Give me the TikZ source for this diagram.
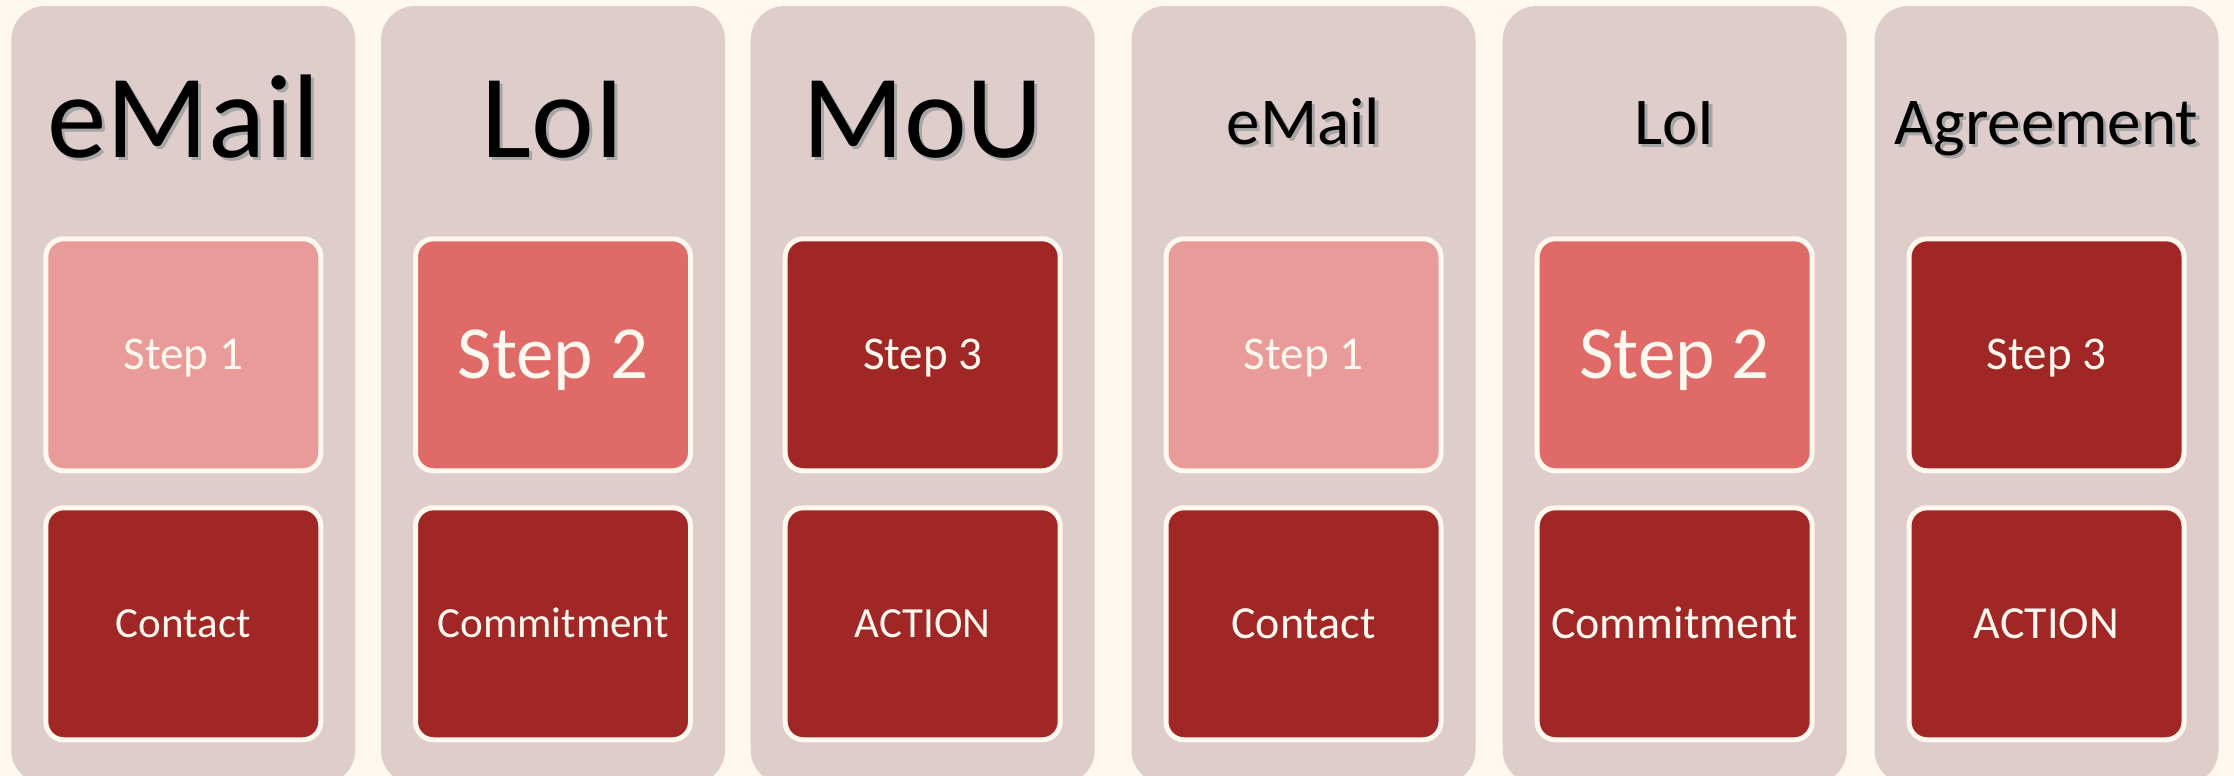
\documentclass[tikz,border=0pt]{standalone}
\usepackage{fontspec}
\setmainfont{Carlito}
\definecolor{bg}{HTML}{FEF8EF}
\definecolor{colfill}{HTML}{DFCDCB}
\definecolor{lightred}{HTML}{E99B9A}
\definecolor{midred}{HTML}{DF6A68}
\definecolor{darkred}{HTML}{A02725}
\definecolor{cream}{HTML}{FFF8EE}
\newcommand\shtext[1]{\makebox[0pt][l]{\raisebox{-1.6pt}{\hspace{1.6pt}\textcolor{black!35}{#1}}}#1}
\begin{document}
\begin{tikzpicture}[x=0.5pt,y=-0.5pt,
  column/.style={fill=colfill, rounded corners=17pt, minimum width=172pt, minimum height=389pt, inner sep=0pt},
  stepbox/.style={draw=cream, line width=2.5pt, rounded corners=9pt, minimum width=137.5pt, minimum height=116pt, inner sep=0pt, text=cream},
  bigtitle/.style={anchor=base, inner sep=0pt, font=\fontsize{59.5}{70}\selectfont},
  smalltitle/.style={anchor=base, inner sep=0pt, font=\fontsize{33.5}{40}\selectfont},
  stxt/.style={font=\fontsize{23.5}{28}\selectfont, text height=14.9pt, text depth=0pt},
  bigtxt/.style={font=\fontsize{37.5}{44}\selectfont, text height=23.7pt, text depth=0pt},
  ltxt/.style={font=\fontsize{21.5}{26}\selectfont, text height=13.6pt, text depth=0pt},
  rtxt/.style={font=\fontsize{23}{28}\selectfont, text height=14.5pt, text depth=0pt}]
\fill[bg] (0,0) rectangle (2234,776);
\useasboundingbox (0,0) rectangle (2234,776);
\clip (0,0) rectangle (2234,776);
% columns
\node[column] (c1) at (183.3,395) {};
\node[column] (c2) at (553,395) {};
\node[column] (c3) at (922.7,395) {};
\node[column] (c4) at (1303.5,395) {};
\node[column] (c5) at (1674.7,395) {};
\node[column] (c6) at (2046.5,395) {};
% titles
\node[bigtitle] (h1) at (183.3,157) {\shtext{eMail}};
\node[bigtitle] (h2) at (553,157) {\shtext{LoI}};
\node[bigtitle] (h3) at (922.7,157) {\shtext{MoU}};
\node[smalltitle] (h4) at (1303.5,144) {\shtext{eMail}};
\node[smalltitle] (h5) at (1674.7,144) {\shtext{LoI}};
\node[smalltitle] (h6) at (2046.5,144) {\shtext{Agreement}};
% top boxes
\node[stepbox, fill=lightred, stxt] (t1) at (183.3,354.8) {Step 1};
\node[stepbox, fill=midred, bigtxt] (t2) at (553,354.8) {Step 2};
\node[stepbox, fill=darkred, stxt] (t3) at (922.7,354.8) {Step 3};
\node[stepbox, fill=lightred, stxt] (t4) at (1303.5,354.8) {Step 1};
\node[stepbox, fill=midred, bigtxt] (t5) at (1674.7,354.8) {Step 2};
\node[stepbox, fill=darkred, stxt] (t6) at (2046.5,354.8) {Step 3};
% bottom boxes
\node[stepbox, fill=darkred, ltxt] (b1) at (183.3,623.8) {Contact};
\node[stepbox, fill=darkred, ltxt] (b2) at (553,623.8) {Commitment};
\node[stepbox, fill=darkred, ltxt] (b3) at (922.7,623.8) {ACTION};
\node[stepbox, fill=darkred, rtxt] (b4) at (1303.5,623.8) {Contact};
\node[stepbox, fill=darkred, rtxt] (b5) at (1674.7,623.8) {Commitment};
\node[stepbox, fill=darkred, rtxt] (b6) at (2046.5,623.8) {ACTION};
\end{tikzpicture}
\end{document}
